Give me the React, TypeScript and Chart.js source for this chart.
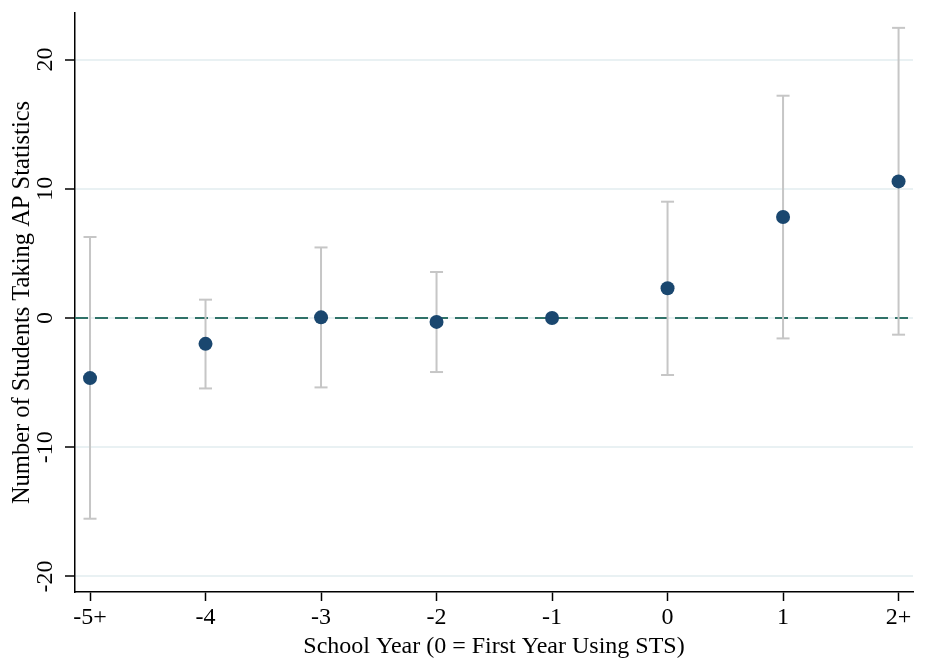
import React, { useEffect, useRef } from "react";
import { Chart, registerables } from "chart.js";

Chart.register(...registerables);

const categories = ["-5+", "-4", "-3", "-2", "-1", "0", "1", "2+"];
const estimates = [-4.65, -2.0, 0.05, -0.3, 0.0, 2.3, 7.82, 10.57];
const ciLow = [-15.53, -5.45, -5.37, -4.18, null, -4.41, -1.58, -1.29];
const ciHigh = [6.27, 1.42, 5.46, 3.56, null, 9.0, 17.2, 22.45];
const yTicks = [-20, -10, 0, 10, 20];

const X_MIN = -0.13;
const X_MAX = 7.125;
const Y_MIN = -21.2;
const Y_MAX = 23.6;

const NAVY = "#1a476f";
const GRAY = "#c6c6c6";
const TEAL = "#2f7268";
const GRID = "#e9f1f3";
const FONT = "'Liberation Serif', 'Times New Roman', serif";

export default function App() {
  const ref = useRef<HTMLCanvasElement | null>(null);

  useEffect(() => {
    if (!ref.current) return;

    const pts = estimates.map((v, i) => ({ x: i, y: v }));
    const ciSegments: { x: number; y: number | null }[] = [];
    const caps: { x: number; y: number }[] = [];
    categories.forEach((_, i) => {
      const lo = ciLow[i];
      const hi = ciHigh[i];
      if (lo === null || hi === null) return;
      ciSegments.push({ x: i, y: lo }, { x: i, y: hi }, { x: i, y: null });
      caps.push({ x: i, y: lo }, { x: i, y: hi });
    });

    const chart = new Chart(ref.current, {
      type: "scatter",
      data: {
        datasets: [
          {
            label: "estimate",
            data: pts,
            pointRadius: 7,
            pointBackgroundColor: NAVY,
            pointBorderColor: NAVY,
            pointBorderWidth: 0,
            order: 0,
          },
          {
            label: "caps",
            data: caps,
            pointStyle: "line",
            pointRadius: 6.5,
            pointBorderColor: GRAY,
            pointBorderWidth: 2,
            order: 1,
          },
          {
            label: "ci",
            data: ciSegments as any,
            showLine: true,
            spanGaps: false,
            borderColor: GRAY,
            borderWidth: 2,
            pointRadius: 0,
            order: 2,
          },
          {
            label: "zero",
            data: [
              { x: X_MIN, y: 0 },
              { x: X_MAX, y: 0 },
            ],
            showLine: true,
            borderColor: TEAL,
            borderWidth: 2,
            borderDash: [13, 7],
            pointRadius: 0,
            order: 3,
          },
        ],
      },
      options: {
        animation: false,
        responsive: false,
        maintainAspectRatio: false,
        layout: { padding: { top: 13, right: 25, left: 0, bottom: 0 } },
        plugins: {
          legend: { display: false },
          tooltip: { enabled: false },
        },
        scales: {
          x: {
            type: "linear",
            min: X_MIN,
            max: X_MAX,
            afterBuildTicks: (scale: any) => {
              scale.ticks = categories.map((_, i) => ({ value: i }));
            },
            afterFit: (scale: any) => {
              scale.height = 73;
              scale.paddingLeft = 0;
              scale.paddingRight = 0;
            },
            grid: {
              drawOnChartArea: false,
              drawTicks: true,
              tickLength: 9,
              tickColor: "#000",
              tickWidth: 1.5,
            },
            border: { display: true, color: "#000", width: 1.5 },
            ticks: {
              color: "#000",
              padding: 2,
              maxRotation: 0,
              minRotation: 0,
              autoSkip: false,
              font: { family: FONT, size: 24 },
              callback: (v: any) => categories[Math.round(Number(v))] ?? "",
            },
            title: {
              display: true,
              text: "School Year (0 = First Year Using STS)",
              color: "#000",
              font: { family: FONT, size: 24 },
              padding: { top: 0, bottom: 4 },
            },
          },
          y: {
            type: "linear",
            min: Y_MIN,
            max: Y_MAX,
            afterBuildTicks: (scale: any) => {
              scale.ticks = yTicks.map((v) => ({ value: v }));
            },
            afterFit: (scale: any) => {
              scale.width = 75;
              scale.paddingTop = 0;
              scale.paddingBottom = 0;
            },
            grid: {
              color: GRID,
              lineWidth: 2,
              drawTicks: true,
              tickLength: 10,
              tickColor: "#000",
              tickWidth: 1.5,
            },
            border: { display: true, color: "#000", width: 1.5 },
            ticks: {
              color: "#000",
              padding: 3,
              minRotation: 90,
              maxRotation: 90,
              crossAlign: "center",
              autoSkip: false,
              font: { family: FONT, size: 24 },
              callback: (v: any) => String(v),
            },
            title: {
              display: true,
              text: "Number of Students Taking AP Statistics",
              color: "#000",
              font: { family: FONT, size: 24.5 },
              padding: { top: 8, bottom: 0 },
            },
          },
        },
      },
    });

    return () => chart.destroy();
  }, []);

  return (
    <div style={{ position: "fixed", left: 0, top: 0, width: 938, height: 665, background: "#fff" }}>
      <canvas ref={ref} width={938} height={665} style={{ width: 938, height: 665, display: "block" }} />
    </div>
  );
}
